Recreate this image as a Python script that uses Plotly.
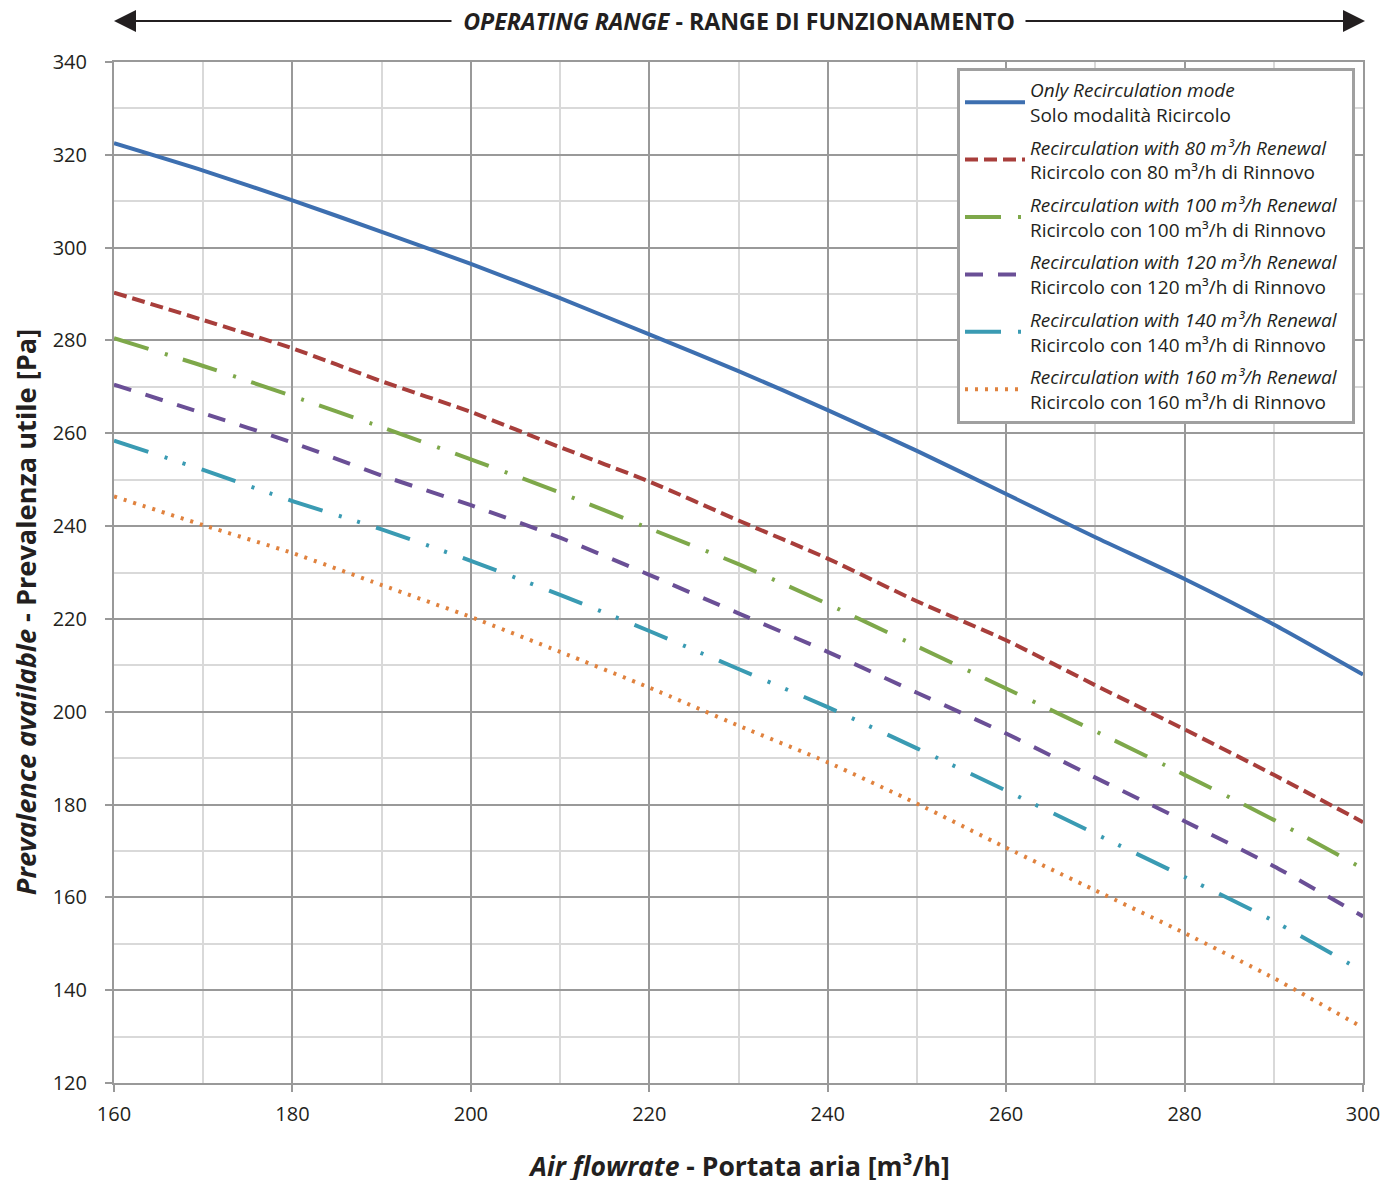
import plotly.graph_objects as go

# ---------------- data ----------------
airflow = [160, 170, 180, 190, 200, 210, 220, 230, 240, 250, 260, 270, 280, 290, 300]

only_recirc = [322.5, 316.6, 310.2, 303.4, 296.5, 289.1, 281.3, 273.4, 265.0, 256.2, 246.9, 237.6, 228.6, 218.8, 208.0]
renewal_80 = [290.3, 284.4, 278.3, 271.2, 264.6, 257.0, 249.6, 241.2, 233.0, 223.8, 215.4, 205.7, 196.2, 186.4, 176.2]
renewal_100 = [280.5, 274.5, 268.0, 261.3, 254.4, 247.2, 239.5, 231.8, 223.2, 214.1, 205.0, 195.8, 186.4, 176.7, 166.2]
renewal_120 = [270.5, 264.3, 258.0, 250.9, 244.5, 237.5, 229.5, 221.2, 212.9, 204.1, 195.3, 185.8, 176.4, 166.7, 155.9]
renewal_140 = [258.4, 252.1, 245.4, 239.3, 232.5, 225.2, 217.4, 209.2, 201.0, 192.1, 183.0, 173.7, 164.4, 154.9, 144.0]
renewal_160 = [246.4, 240.2, 234.2, 227.3, 220.4, 212.9, 205.2, 197.0, 189.1, 180.2, 170.7, 161.5, 152.3, 142.6, 131.9]

NB = "\u00a0\u00a0"
series_names = [
    "<i>Only Recirculation mode</i><br>Solo modalità Ricircolo",
    "<i>Recirculation with 80 m³/h Renewal</i><br>Ricircolo con 80 m³/h di Rinnovo",
    "<i>Recirculation with 100 m³/h Renewal" + NB + "</i><br>Ricircolo con 100 m³/h di Rinnovo",
    "<i>Recirculation with 120 m³/h Renewal</i><br>Ricircolo con 120 m³/h di Rinnovo",
    "<i>Recirculation with 140 m³/h Renewal</i><br>Ricircolo con 140 m³/h di Rinnovo",
    "<i>Recirculation with 160 m³/h Renewal</i><br>Ricircolo con 160 m³/h di Rinnovo",
]
series_values = [only_recirc, renewal_80, renewal_100, renewal_120, renewal_140, renewal_160]

x_ticks = [160, 180, 200, 220, 240, 260, 280, 300]
y_ticks = [120, 140, 160, 180, 200, 220, 240, 260, 280, 300, 320, 340]

x_title = "<b><i>Air flowrate </i>- Portata aria [m³/h]</b>"
y_title = "<b><i>Prevalence available </i>- Prevalenza utile [Pa]</b>"
top_title = "<b><i>OPERATING RANGE </i>- RANGE DI FUNZIONAMENTO</b>"

# ---------------- styles ----------------
colors = ["#3d6fb0", "#a83e3b", "#7ea84a", "#6a4f96", "#3a9bb3", "#e0823e"]
dashes = ["solid", "13px,6px", "36px,17px,3px,16px", "18px,15px",
          "36px,17px,3px,16px,3px,17px", "3px,7px"]
TXT = "#231f20"
FONT = "Open Sans"

# plot-area pixel frame, used to place annotations
PX0, PX1, PY0, PY1 = 114, 1363, 62, 1083


def px(xp):
    return (xp - PX0) / (PX1 - PX0)


def py(yp):
    return (PY1 - yp) / (PY1 - PY0)


fig = go.Figure()
for i, (name, vals) in enumerate(zip(series_names, series_values)):
    fig.add_trace(go.Scatter(
        x=airflow, y=vals, mode="lines", name=name,
        line=dict(color=colors[i], width=4, dash=dashes[i], shape="spline", smoothing=0.6),
        legendgroup=f"g{i}",
    ))

fig.update_layout(
    width=1389, height=1172,
    margin=dict(l=106, r=34, t=54, b=97),
    paper_bgcolor="white", plot_bgcolor="white",
    font=dict(family=FONT, color=TXT, size=18),
    showlegend=True,
    legend=dict(
        x=px(957), y=py(68), xanchor="left", yanchor="top",
        bgcolor="white", bordercolor="#a0a0a0", borderwidth=3,
        font=dict(family=FONT, size=19, color=TXT),
        itemwidth=60, tracegroupgap=5,
    ),
    xaxis=dict(
        range=[160, 300], tickvals=x_ticks, ticks="outside", ticklen=7, tickcolor="#999999",
        tickwidth=2, ticklabelstandoff=5,
        showgrid=True, gridcolor="#999999", gridwidth=2,
        minor=dict(dtick=10, tick0=160, showgrid=True, gridcolor="#d9d9d9", gridwidth=2, ticks=""),
        showline=True, linecolor="#999999", linewidth=2, mirror=True,
        zeroline=False,
        tickfont=dict(family=FONT, size=20, color=TXT),
    ),
    yaxis=dict(
        range=[120, 340], tickvals=y_ticks, ticks="outside", ticklen=7, tickcolor="#999999",
        tickwidth=2, ticklabelstandoff=14,
        showgrid=True, gridcolor="#999999", gridwidth=2,
        minor=dict(dtick=10, tick0=120, showgrid=True, gridcolor="#d9d9d9", gridwidth=2, ticks=""),
        showline=True, linecolor="#999999", linewidth=2, mirror=True,
        zeroline=False,
        tickfont=dict(family=FONT, size=20, color=TXT),
    ),
)


def note(text, x, y, size, w, h, angle=0):
    fig.add_annotation(x=x, y=y, xref="paper", yref="paper", showarrow=False,
                       text=text, xanchor="center", yanchor="middle", textangle=angle,
                       width=w, height=h, align="center", valign="middle",
                       font=dict(family=FONT, size=size, color=TXT))


# axis titles
note(x_title, px(739), py(1166), 26.5, 520, 46)
note(y_title, px(25), py(612), 27.2, 660, 46, -90)

# Operating range arrows and label above the plot
arrow_y = py(21)
fig.add_annotation(x=0, y=arrow_y, xref="paper", yref="paper", ax=453 - PX0, ay=0,
                   showarrow=True, arrowhead=2, arrowsize=2.2, arrowwidth=2,
                   arrowcolor="#231f20", text="")
fig.add_annotation(x=px(1365), y=arrow_y, xref="paper", yref="paper", ax=1024 - 1365, ay=0,
                   showarrow=True, arrowhead=2, arrowsize=2.2, arrowwidth=2,
                   arrowcolor="#231f20", text="")
note(top_title, px(739), arrow_y, 23.2, 560, 36)

fig.write_html("out.html")
